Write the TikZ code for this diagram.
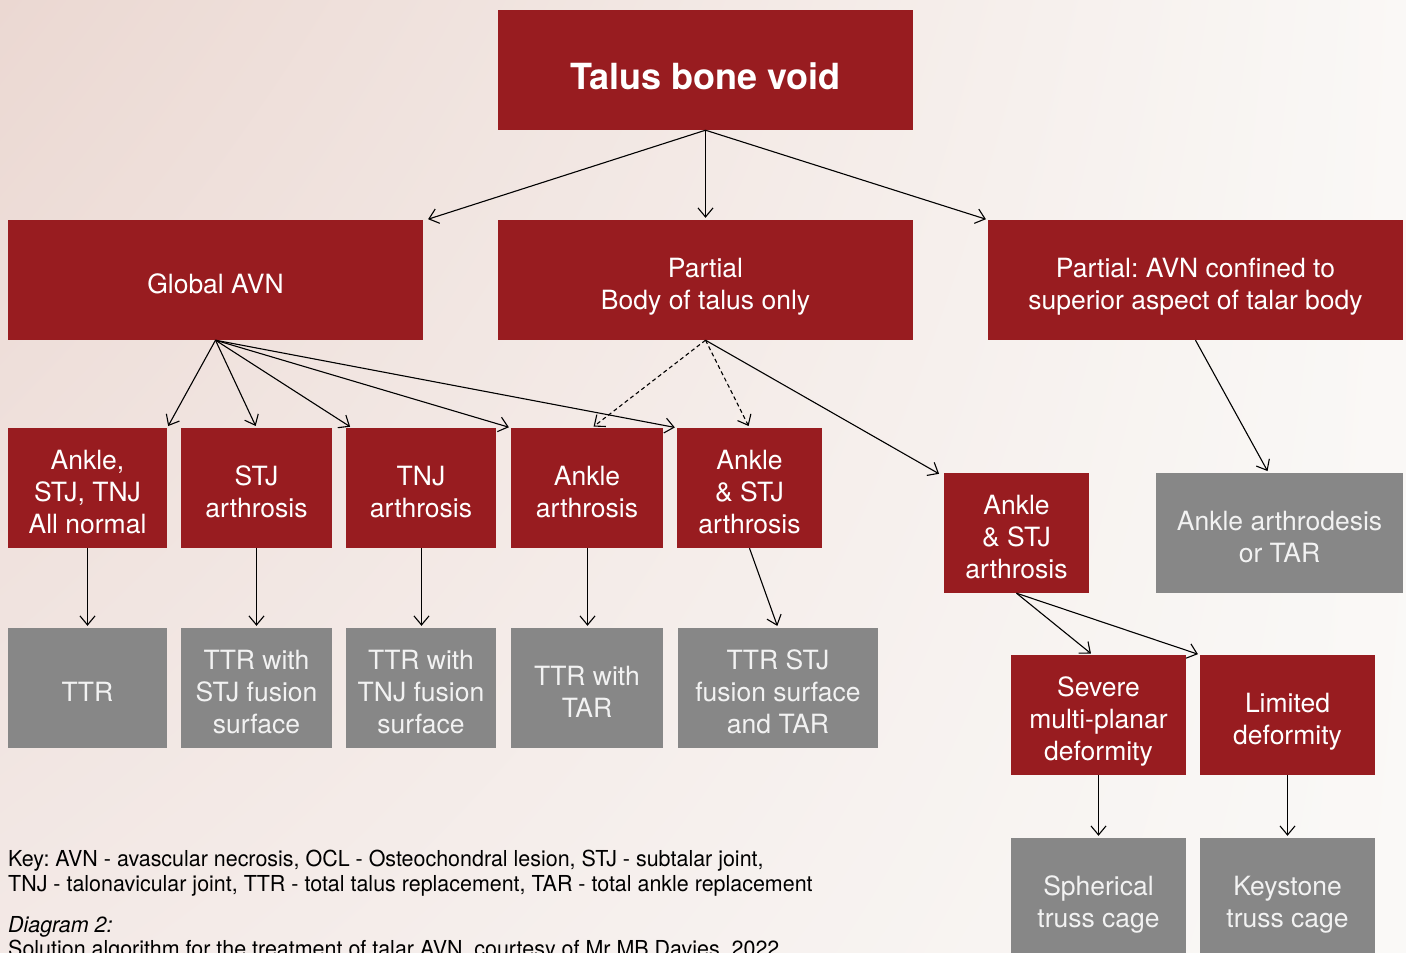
\documentclass[tikz,border=0pt]{standalone}
\usepackage{fontspec}
\setmainfont{TeX Gyre Heros}
\newfontfamily\keyfont[FakeStretch=0.975]{TeX Gyre Heros}
\usetikzlibrary{arrows.meta,shadings}
\definecolor{boxred}{HTML}{981C20}
\definecolor{boxgrey}{HTML}{878787}
\definecolor{greytext}{HTML}{F2F2F2}
\definecolor{bgTL}{HTML}{EBD8D2}
\definecolor{bgTR}{HTML}{FAF8F6}
\definecolor{bgBL}{HTML}{F3E9E6}
\definecolor{bgBR}{HTML}{FAF9F7}
\newcommand\tstr{\rule{0pt}{33pt}}
\tikzset{
  boxbase/.style={rectangle, inner sep=0pt, align=center, minimum height=120pt,
    font=\frenchspacing\fontsize{26.5}{32}\selectfont,
    execute at end node={\rule[-6pt]{0pt}{6pt}}},
  redbox/.style={boxbase, fill=boxred, text=white},
  greybox/.style={boxbase, fill=boxgrey, text=greytext},
  conn/.style={draw=black, line width=1.1pt, -{Straight Barb[length=9pt,width=15pt,line width=1.1pt]}, shorten >=2pt},
  dconn/.style={conn, dashed, dash pattern=on 4pt off 3pt},
  keytext/.style={anchor=base west, inner sep=0pt, font=\frenchspacing\keyfont\fontsize{22}{25}\selectfont, align=left}
}
\begin{document}
\begin{tikzpicture}[x=1pt,y=-1pt]
\useasboundingbox (0,0) rectangle (1406,953);
\shade[upper left=bgTL, upper right=bgTR, lower left=bgBL, lower right=bgBR] (0,0) rectangle (1406,953);
\begin{scope}
\clip (0,0) rectangle (1406,953);
% top level
\node[redbox, minimum width=415pt, font=\bfseries\fontsize{36}{40}\selectfont] (top) at (705.5,70) {\rule{0pt}{44pt}Talus bone void};
% second level
\node[redbox, minimum width=415pt] (gavn) at (215.5,280) {\tstr Global AVN};
\node[redbox, minimum width=415pt] (part) at (705.5,280) {\tstr Partial\\Body of talus only};
\node[redbox, minimum width=415pt] (psup) at (1195.5,280) {\tstr Partial: AVN confined to\\superior aspect of talar body};
% third level
\node[redbox, minimum width=159pt] (n1) at (87.5,488) {\tstr Ankle,\\STJ, TNJ\\All normal};
\node[redbox, minimum width=151pt] (n2) at (256.5,488) {\tstr STJ\\arthrosis};
\node[redbox, minimum width=150pt] (n3) at (421,488) {\tstr TNJ\\arthrosis};
\node[redbox, minimum width=152pt] (n4) at (587,488) {\tstr Ankle\\arthrosis};
\node[redbox, minimum width=145pt] (n5) at (749.5,488) {\tstr Ankle\\\& STJ\\arthrosis};
\node[redbox, minimum width=145pt] (r1) at (1016.5,533) {\tstr Ankle\\\& STJ\\arthrosis};
\node[greybox, minimum width=247pt] (ar) at (1279.5,533) {\tstr Ankle arthrodesis\\or TAR};
% fourth level
\node[greybox, minimum width=159pt] (g1) at (87.5,688) {\tstr TTR};
\node[greybox, minimum width=151pt] (g2) at (256.5,688) {\tstr TTR with\\STJ fusion\\surface};
\node[greybox, minimum width=150pt] (g3) at (421,688) {\tstr TTR with\\TNJ fusion\\surface};
\node[greybox, minimum width=152pt] (g4) at (587,688) {\tstr TTR with\\TAR};
\node[greybox, minimum width=200pt] (g5) at (778,688) {\tstr TTR STJ\\fusion surface\\and TAR};
\node[redbox, minimum width=175pt] (sev) at (1098.5,715) {\tstr Severe\\multi-planar\\deformity};
\node[redbox, minimum width=175pt] (lim) at (1287.5,715) {\tstr Limited\\deformity};
\node[greybox, minimum width=175pt] (sph) at (1098.5,898) {\tstr Spherical\\truss cage};
\node[greybox, minimum width=175pt] (key) at (1287.5,898) {\tstr Keystone\\truss cage};
% connectors
\draw[conn] (top.south) -- ([xshift=3pt]gavn.north east);
\draw[conn] (top.south) -- (part.north);
\draw[conn] (top.south) -- (psup.north west);
\draw[conn] (gavn.south) -- (n1.north east);
\draw[conn] (gavn.south) -- (n2.north);
\draw[conn] (gavn.south) -- ([xshift=6pt]n3.north west);
\draw[conn] (gavn.south) -- (n4.north west);
\draw[conn] (gavn.south) -- (n5.north west);
\draw[dconn] (part.south) -- ([xshift=5pt]n4.north);
\draw[dconn] (part.south) -- (n5.north);
\draw[conn] (part.south) -- ([xshift=-3pt,yshift=-2pt]r1.north west);
\draw[conn] (psup.south) -- ([xshift=-11pt]ar.north);
\draw[conn] (n1.south) -- (g1.north);
\draw[conn] (n2.south) -- (g2.north);
\draw[conn] ([xshift=0.5pt]n3.south) -- ([xshift=0.5pt]g3.north);
\draw[conn] ([xshift=0.5pt]n4.south) -- ([xshift=0.5pt]g4.north);
\draw[conn] (n5.south) -- (g5.north);
\draw[conn] (r1.south) -- ([xshift=-6pt]sev.north);
\draw[conn] (r1.south) -- (lim.north west);
\draw[conn] (sev.south) -- (sph.north);
\draw[conn] (lim.south) -- (key.north);
% key text
\node[keytext] (k1) at (8,866) {Key: AVN - avascular necrosis, OCL - Osteochondral lesion, STJ - subtalar joint,};
\node[keytext] (k2) at (8,891) {TNJ - talonavicular joint, TTR - total talus replacement, TAR - total ankle replacement};
\node[keytext, font=\frenchspacing\keyfont\itshape\fontsize{22}{25}\selectfont] (k3) at (8,932) {Diagram 2:};
\node[keytext] (k4) at (8,956) {Solution algorithm for the treatment of talar AVN, courtesy of Mr MB Davies, 2022};
\end{scope}
\end{tikzpicture}
\end{document}
